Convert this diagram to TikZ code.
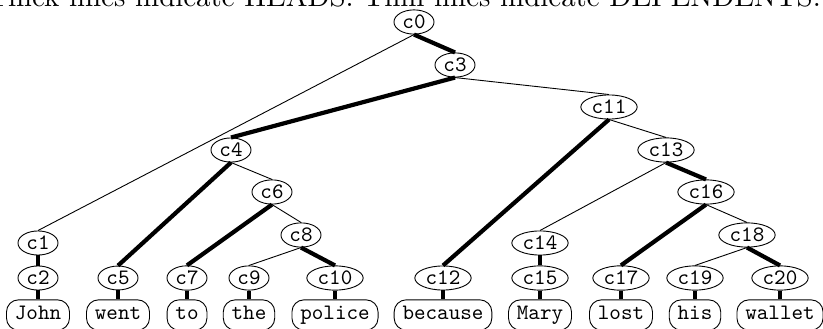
\documentclass[tikz,border=0pt]{standalone}
\usetikzlibrary{shapes.geometric}
\usepackage{graphicx}
% node labels: typewriter text enlarged uniformly
\newcommand{\nlabel}[1]{\scalebox{2.2}{\ttfamily #1}}
\tikzset{
  cat/.style={ellipse, draw, line width=0.9pt, inner xsep=2.6pt, inner ysep=1.6pt},
  word/.style={rectangle, rounded corners=12pt, draw, line width=0.9pt,
    inner xsep=8.4pt, inner ysep=6pt, text height=13.4pt, text depth=4.9pt},
  head/.style={line width=4.2pt},
  dep/.style={line width=0.9pt},
}
\begin{document}
\begin{tikzpicture}[x=1pt,y=-1pt]
\useasboundingbox (0,0) rectangle (823,329);
\node[anchor=base, inner sep=0pt] (title) at (404,7)
  {\resizebox{833.7pt}{!}{Thick lines indicate HEADS. Thin lines indicate DEPENDENTS.}};

% category nodes
\node[cat] (c0)  at (414,22)  {\nlabel{c0}};
\node[cat] (c3)  at (455,65)  {\nlabel{c3}};
\node[cat] (c11) at (609,107) {\nlabel{c11}};
\node[cat] (c4)  at (231,150) {\nlabel{c4}};
\node[cat] (c13) at (666,150) {\nlabel{c13}};
\node[cat] (c6)  at (272,192) {\nlabel{c6}};
\node[cat] (c16) at (706,192) {\nlabel{c16}};
\node[cat] (c1)  at (38,243)  {\nlabel{c1}};
\node[cat] (c8)  at (301,235) {\nlabel{c8}};
\node[cat] (c14) at (540,243) {\nlabel{c14}};
\node[cat] (c18) at (747,235) {\nlabel{c18}};
\node[cat] (c2)  at (38,278)  {\nlabel{c2}};
\node[cat] (c5)  at (118,278) {\nlabel{c5}};
\node[cat] (c7)  at (187,278) {\nlabel{c7}};
\node[cat] (c9)  at (249,278) {\nlabel{c9}};
\node[cat] (c10) at (335,278) {\nlabel{c10}};
\node[cat] (c12) at (443,278) {\nlabel{c12}};
\node[cat] (c15) at (540,278) {\nlabel{c15}};
\node[cat] (c17) at (621,278) {\nlabel{c17}};
\node[cat] (c19) at (695,278) {\nlabel{c19}};
\node[cat] (c20) at (780,278) {\nlabel{c20}};

% words
\node[word] (w1)  at (38,315)  {\nlabel{John}};
\node[word] (w2)  at (118,315) {\nlabel{went}};
\node[word] (w3)  at (187,315) {\nlabel{to}};
\node[word] (w4)  at (249,315) {\nlabel{the}};
\node[word] (w5)  at (335,315) {\nlabel{police}};
\node[word] (w6)  at (443,315) {\nlabel{because}};
\node[word] (w7)  at (540,315) {\nlabel{Mary}};
\node[word] (w8)  at (621,315) {\nlabel{lost}};
\node[word] (w9)  at (695,315) {\nlabel{his}};
\node[word] (w10) at (780,315) {\nlabel{wallet}};

% head links
\draw[head] (c0.south) -- (c3.north);
\draw[head] (c3.south) -- (c4.north);
\draw[head] (c4.south) -- (c5.north);
\draw[head] (c6.south) -- (c7.north);
\draw[head] (c8.south) -- (c10.north);
\draw[head] (c1.south) -- (c2.north);
\draw[head] (c11.south) -- (c12.north);
\draw[head] (c13.south) -- (c16.north);
\draw[head] (c14.south) -- (c15.north);
\draw[head] (c16.south) -- (c17.north);
\draw[head] (c18.south) -- (c20.north);
\draw[head] (c2.south) -- (w1.north);
\draw[head] (c5.south) -- (w2.north);
\draw[head] (c7.south) -- (w3.north);
\draw[head] (c9.south) -- (w4.north);
\draw[head] (c10.south) -- (w5.north);
\draw[head] (c12.south) -- (w6.north);
\draw[head] (c15.south) -- (w7.north);
\draw[head] (c17.south) -- (w8.north);
\draw[head] (c19.south) -- (w9.north);
\draw[head] (c20.south) -- (w10.north);

% dependent links
\draw[dep] (c0.south) -- (c1.north);
\draw[dep] (c3.south) -- (c11.north);
\draw[dep] (c4.south) -- (c6.north);
\draw[dep] (c6.south) -- (c8.north);
\draw[dep] (c8.south) -- (c9.north);
\draw[dep] (c11.south) -- (c13.north);
\draw[dep] (c13.south) -- (c14.north);
\draw[dep] (c16.south) -- (c18.north);
\draw[dep] (c18.south) -- (c19.north);
\end{tikzpicture}
\end{document}
